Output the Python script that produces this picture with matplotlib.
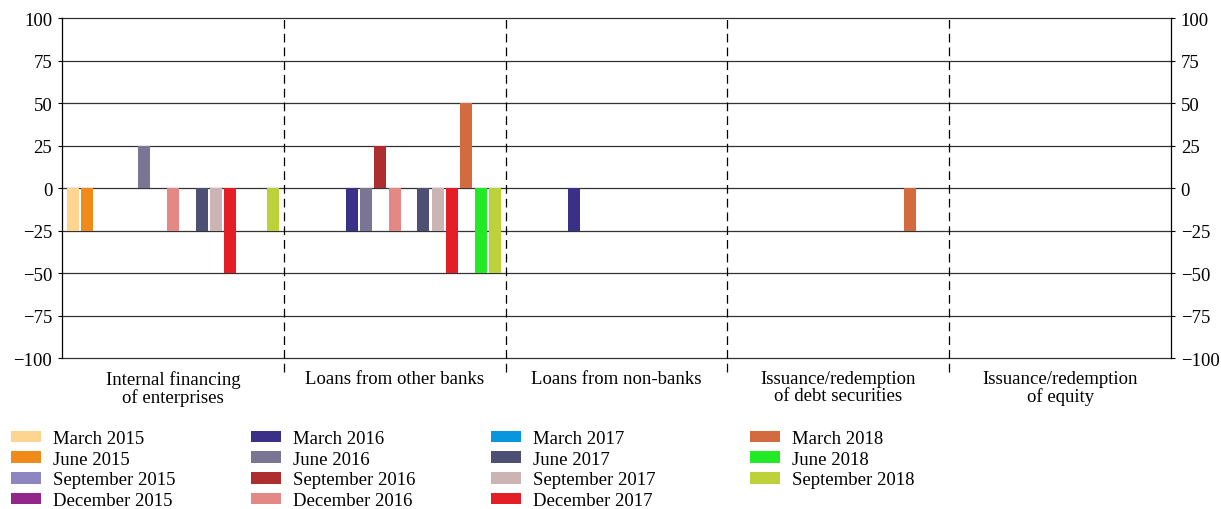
import numpy as np
import matplotlib.pyplot as plt
from matplotlib.patches import Patch

plt.rcParams['font.family'] = ['Liberation Serif', 'DejaVu Serif']

# NOTE: categories and series
groups = ['Internal financing\nof enterprises', 'Loans from other banks',
          'Loans from non-banks', 'Issuance/redemption\nof debt securities',
          'Issuance/redemption\nof equity']
periods = ['March 2015', 'June 2015', 'September 2015', 'December 2015',
           'March 2016', 'June 2016', 'September 2016', 'December 2016',
           'March 2017', 'June 2017', 'September 2017', 'December 2017',
           'March 2018', 'June 2018', 'September 2018']
colors = ['#fdd590', '#f08a1b', '#8e86c0', '#93268a',
          '#3a3087', '#7a7593', '#ae2d2f', '#e48886',
          '#0a96dc', '#4d4f75', '#cbb4b3', '#e31e26',
          '#d46a40', '#22ea27', '#bdd13a']

# NOTE: one row per period, one column per group
values = np.array([
    [-25, 0, 0, 0, 0],    # March 2015
    [-25, 0, 0, 0, 0],    # June 2015
    [0, 0, 0, 0, 0],      # September 2015
    [0, 0, 0, 0, 0],      # December 2015
    [0, -25, -25, 0, 0],  # March 2016
    [25, -25, 0, 0, 0],   # June 2016
    [0, 25, 0, 0, 0],     # September 2016
    [-25, -25, 0, 0, 0],  # December 2016
    [0, 0, 0, 0, 0],      # March 2017
    [-25, -25, 0, 0, 0],  # June 2017
    [-25, -25, 0, 0, 0],  # September 2017
    [-50, -50, 0, 0, 0],  # December 2017
    [0, 50, 0, -25, 0],   # March 2018
    [0, -50, 0, 0, 0],    # June 2018
    [-25, -50, 0, 0, 0],  # September 2018
])

yticks = [-100, -75, -50, -25, 0, 25, 50, 75, 100]

fig = plt.figure(figsize=(12.21, 5.10), dpi=100)
ax = fig.add_axes([62 / 1221, 1 - 359 / 510, (1171 - 62) / 1221, 340 / 510])

x = np.arange(len(groups))
pitch = 0.0646
width = 0.054
for k in range(len(periods)):
    ax.bar(x + (k - 7) * pitch, values[k], width=width, color=colors[k],
           label=periods[k], zorder=3)

# NOTE: grid and group separators
for yv in yticks:
    ax.axhline(yv, color='#333333', lw=0.9, zorder=1, clip_on=False)
for b in np.arange(0.5, len(groups) - 1, 1.0):
    ax.axvline(b, ymin=-0.042, ymax=1, color='black', lw=0.9,
               linestyle=(0, (7, 4)), clip_on=False, zorder=2)

ax.set_xlim(-0.5, len(groups) - 0.5)
ax.set_ylim(-100, 100)
ax.set_yticks(yticks)
ax.set_yticklabels([str(v).replace('-', '\u2212') for v in yticks])
ax.set_xticks(x)
ax.set_xticklabels(groups, linespacing=0.95)
ax.tick_params(axis='x', length=0, pad=9, labelsize=13.5)
ax.tick_params(axis='y', direction='out', length=3, width=0.8, labelsize=13.5,
               left=True, right=True, labelleft=True, labelright=True, pad=4)
for s in ['top', 'bottom']:
    ax.spines[s].set_visible(False)
for s in ['left', 'right']:
    ax.spines[s].set_linewidth(0.9)

# NOTE: legend, four columns placed by hand
col_x = [11, 251, 491, 750]
for c in range(4):
    idx = list(range(c * 4, min(c * 4 + 4, len(periods))))
    handles = [Patch(facecolor=colors[i], label=periods[i]) for i in idx]
    fig.legend(handles=handles, loc='upper left',
               bbox_to_anchor=(col_x[c] / 1221, 1 - 431 / 510),
               frameon=False, fontsize=13.5, handlelength=1.6,
               handleheight=0.55, handletextpad=0.65, labelspacing=0.2,
               borderaxespad=0, borderpad=0)

fig.savefig('out.png', dpi=100)
